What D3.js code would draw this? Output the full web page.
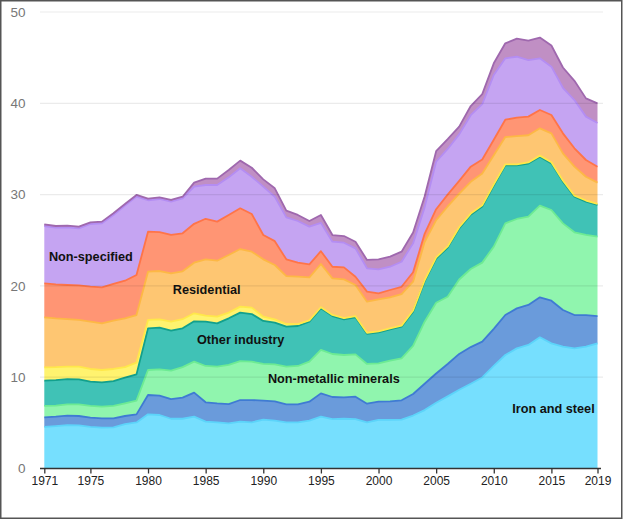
<!DOCTYPE html>
<html><head><meta charset="utf-8">
<script src="https://cdn.jsdelivr.net/npm/d3@7/dist/d3.min.js"></script>
<style>body{margin:0;background:#fff}svg{display:block}</style>
</head><body><svg id="c" width="624" height="520"></svg>
<script>
// ---- data ----
const years = [1971,1972,1973,1974,1975,1976,1977,1978,1979,1980,
  1981,1982,1983,1984,1985,1986,1987,1988,1989,1990,
  1991,1992,1993,1994,1995,1996,1997,1998,1999,2000,
  2001,2002,2003,2004,2005,2006,2007,2008,2009,2010,
  2011,2012,2013,2014,2015,2016,2017,2018,2019];
const ironSteel = [4.55,4.65,4.75,4.72,4.55,4.48,4.5,4.85,5.05,5.93,
  5.86,5.45,5.45,5.68,5.13,5.06,4.95,5.13,5.06,5.35,
  5.24,5.06,5.06,5.24,5.68,5.4,5.45,5.4,5.06,5.33,
  5.33,5.35,5.8,6.4,7.2,7.9,8.63,9.28,9.97,11.25,
  12.43,13.16,13.53,14.37,13.71,13.34,13.16,13.34,13.71];
const chemical = [1.05,1.03,1.04,1.03,1.02,1.01,0.99,0.90,0.88,2.12,
  2.12,2.16,2.31,2.63,2.12,2.08,2.11,2.37,2.44,2.08,
  2.12,1.97,1.97,2.08,2.55,2.43,2.33,2.47,2.04,1.99,
  2.03,2.12,2.36,2.88,3.2,3.55,3.92,4.02,3.92,4.05,
  4.38,4.38,4.38,4.38,4.67,4.02,3.65,3.47,2.99];
const nonMetallic = [1.25,1.20,1.24,1.28,1.28,1.28,1.36,1.39,1.50,2.74,
  2.88,3.11,3.34,3.39,3.98,4.01,4.28,4.27,4.20,4.02,
  4.05,4.12,4.20,4.38,4.77,4.71,4.65,4.63,4.35,4.20,
  4.45,4.60,5.26,6.80,7.76,7.37,8.15,8.55,8.66,9.0,
  10.04,9.79,9.67,10.04,9.93,9.49,9.06,8.77,8.69];
const otherIndustry = [2.77,2.81,2.77,2.74,2.66,2.67,2.73,2.81,2.88,4.56,
  4.57,4.38,4.25,4.42,4.85,4.75,5.11,5.30,5.22,4.71,
  4.56,4.38,4.38,4.38,4.54,4.16,3.91,4.06,3.30,3.39,
  3.43,3.46,3.76,4.42,4.84,5.38,5.60,5.95,6.15,6.70,
  6.35,5.87,5.82,5.36,5.11,4.57,3.90,3.65,3.47];
const commercial = [1.46,1.41,1.35,1.38,1.39,1.35,1.32,1.15,1.28,0.92,
  0.91,0.98,1.0,0.88,0.66,0.73,0.62,0.66,0.70,0.47,
  0.37,0.30,0.2,0.15,0.12,0.12,0.12,0.12,0.12,0.12,
  0.12,0.12,0.12,0.12,0.12,0.12,0.12,0.12,0.12,0.12,
  0.12,0.12,0.12,0.12,0.12,0.12,0.12,0.12,0.12];
const residential = [5.48,5.35,5.22,5.12,5.18,5.11,5.29,5.35,5.22,5.29,
  5.29,5.30,5.25,5.54,6.17,6.13,6.31,6.31,6.13,6.28,
  5.95,5.25,5.20,4.71,4.74,4.01,4.26,3.42,3.40,3.50,
  3.39,3.45,3.16,4.18,4.08,4.38,3.68,3.48,3.48,3.18,
  2.98,3.08,2.98,2.99,3.17,2.98,3.17,2.61,2.33];
const agriculture = [3.72,3.72,3.73,3.78,3.84,3.94,4.02,4.12,4.38,4.38,
  4.27,4.20,4.16,4.26,4.44,4.28,4.39,4.46,4.12,2.67,
  2.61,1.83,1.53,1.42,1.40,1.27,1.31,0.91,1.10,0.66,
  0.80,0.80,1.04,0.90,1.20,1.30,1.40,1.66,1.55,1.70,
  1.90,2.03,2.04,2.01,2.01,2.19,2.01,1.83,1.75];
const nonSpecified = [6.28,6.21,6.32,6.26,6.86,7.02,7.56,8.22,8.59,3.44,
  3.62,3.65,3.83,4.07,3.70,4.01,4.12,4.38,4.09,5.29,
  4.87,4.60,4.57,4.13,3.10,2.74,2.70,3.10,2.56,2.62,
  2.55,2.75,3.16,2.90,5.20,5.00,5.10,5.64,6.05,7.10,
  6.73,6.67,6.20,5.66,5.29,4.99,5.29,4.75,4.79];
const nonEnergy = [0.18,0.18,0.18,0.18,0.18,0.18,0.18,0.18,0.18,0.18,
  0.18,0.18,0.18,0.44,0.70,0.70,0.80,0.84,0.98,0.80,
  0.92,0.73,0.66,0.62,0.87,0.73,0.73,0.73,0.91,1.10,
  1.10,1.10,1.19,1.20,1.15,1.07,0.85,1.00,1.10,1.28,
  1.64,1.98,2.12,2.27,2.32,2.22,2.10,2.00,2.15];
const seriesNames = ["Iron and steel","Chemical and petrochemical","Non-metallic minerals",
  "Other industry","Commercial and public services","Residential","Agriculture / forestry",
  "Non-specified","Non-energy use"];
const seriesValues = [ironSteel,chemical,nonMetallic,otherIndustry,commercial,residential,agriculture,nonSpecified,nonEnergy];
const yTickValues = [0,10,20,30,40,50];
const xTickValues = [1971,1975,1980,1985,1990,1995,2000,2005,2010,2015,2019];

// ---- styles ----
const fills   = ["#76DFFE","#6A9BDB","#90F5AE","#40C2B6","#FFF36F","#FEC672","#FF9574","#C5A4F2","#C08FC4"];
const strokes = ["#5CD4FA","#3F7BD3","#6DEB93","#12A08D","#FFE84A","#FDB845","#FF7448","#B48DF3","#9F68AE"];

const svg = d3.select("#c");
svg.append("rect").attr("width",624).attr("height",520).attr("fill","#fff");

const x = d3.scaleLinear().domain([1971,2019]).range([44.3,597.5]);
const y = d3.scaleLinear().domain([0,50]).range([468.5,12]);

const rows = years.map((yr,i)=>{const r={year:yr}; seriesNames.forEach((n,k)=>r[n]=seriesValues[k][i]); return r;});
const stacked = d3.stack().keys(seriesNames)(rows);

const area = d3.area().x(d=>x(d.data.year)).y0(d=>y(d[0])).y1(d=>y(d[1]));
const topLine = d3.line().x(d=>x(d.data.year)).y(d=>y(d[1]));

const g = svg.append("g");
stacked.forEach((s,i)=>{
  g.append("path").attr("d",area(s)).attr("fill",fills[i]);
});
stacked.forEach((s,i)=>{
  g.append("path").attr("d",topLine(s)).attr("fill","none").attr("stroke",strokes[i])
   .attr("stroke-width",1.8).attr("stroke-linejoin","round");
});

// gridlines (drawn faintly over areas)
svg.append("g").selectAll("line").data(yTickValues.filter(v=>v>0)).join("line")
  .attr("x1",40).attr("x2",603).attr("y1",d=>y(d)).attr("y2",d=>y(d))
  .attr("stroke","#000").attr("stroke-opacity",0.08).attr("stroke-width",1.2);

// y labels
svg.append("g").selectAll("text").data(yTickValues).join("text")
  .attr("x",25.5).attr("y",d=>y(d)).attr("dy","0.36em").attr("text-anchor","end")
  .attr("font-family","Liberation Sans, Arial, sans-serif").attr("font-size",13.5)
  .attr("fill","#777").text(d=>d);

// x axis
const xa = svg.append("g").attr("transform",`translate(0,${y(0)})`)
  .call(d3.axisBottom(x).tickValues(xTickValues).tickFormat(d3.format("d")).tickSize(5).tickSizeOuter(0));
xa.select(".domain").attr("d","M40,0H601").attr("stroke","#333").attr("stroke-width",1.6);
xa.selectAll(".tick line").attr("stroke","#333").attr("stroke-width",1.3);
xa.selectAll(".tick text").attr("font-family","Liberation Sans, Arial, sans-serif")
  .attr("font-size",12).attr("fill","#222").attr("y",8);

// labels
const labels = [
  {t:"Non-specified", yr:1971.4, v:23.2, a:"start"},
  {t:"Residential", yr:1982.15, v:19.66, a:"start"},
  {t:"Other industry", yr:1984.25, v:14.18, a:"start"},
  {t:"Non-metallic minerals", yr:1990.4, v:9.91, a:"start"},
  {t:"Iron and steel", yr:2018.76, v:6.6, a:"end"}
];
svg.append("g").selectAll("text").data(labels).join("text")
  .attr("x",d=>x(d.yr)).attr("y",d=>y(d.v)).attr("dy","0.36em").attr("text-anchor",d=>d.a)
  .attr("font-family","Liberation Sans, Arial, sans-serif").attr("font-weight","bold")
  .attr("font-size",12.7).attr("fill","#111").text(d=>d.t);

// frame
svg.append("rect").attr("x",0.75).attr("y",0.75).attr("width",621).attr("height",517.5)
  .attr("fill","none").attr("stroke","#555").attr("stroke-width",1.5);
</script></body></html>
